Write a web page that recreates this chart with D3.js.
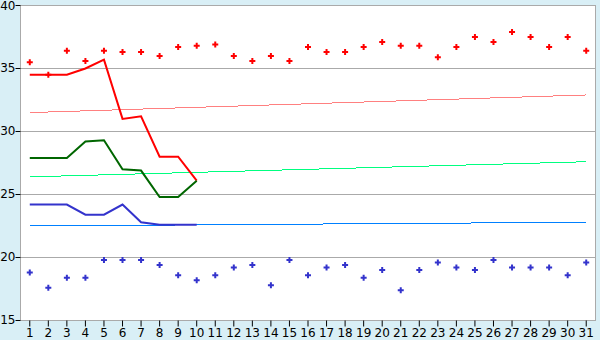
<!DOCTYPE html>
<html>
<head>
<meta charset="utf-8">
<script src="https://cdn.jsdelivr.net/npm/d3@7"></script>
<style>
  html, body { margin: 0; padding: 0; background: #d9eff6; }
  #chart { width: 600px; height: 340px; }
  text { font-family: "DejaVu Sans", Verdana, sans-serif; }
</style>
</head>
<body>
<div id="chart"></div>
<script>
const days = d3.range(1, 32);
const yTicks = [15, 20, 25, 30, 35, 40];

// daily max / min markers
const highs = [35.5, 34.5, 36.4, 35.6, 36.4, 36.3, 36.3, 36.0, 36.7, 36.8,
  36.9, 36.0, 35.6, 36.0, 35.6, 36.7, 36.3, 36.3, 36.7, 37.1,
  36.8, 36.8, 35.9, 36.7, 37.5, 37.1, 37.9, 37.5, 36.7, 37.5, 36.4];
const lows = [18.8, 17.6, 18.4, 18.4, 19.8, 19.8, 19.8, 19.4, 18.6, 18.2,
  18.6, 19.2, 19.4, 17.8, 19.8, 18.6, 19.2, 19.4, 18.4, 19.0,
  17.4, 19.0, 19.6, 19.2, 19.0, 19.8, 19.2, 19.2, 19.2, 18.6, 19.6];

// measured lines, days 1-10
const redLine = [34.5, 34.5, 34.5, 35.0, 35.7, 31.0, 31.2, 28.0, 28.0, 26.1];
const greenLine = [27.9, 27.9, 27.9, 29.2, 29.3, 27.0, 26.9, 24.8, 24.8, 26.1];
const blueLine = [24.2, 24.2, 24.2, 23.4, 23.4, 24.2, 22.8, 22.6, 22.6, 22.6];

// reference lines: value at day 1 and day 31
const redRef = [31.5, 32.9];
const greenRef = [26.4, 27.6];
const blueRef = [22.5, 22.8];

const W = 600, H = 340;
const margin = { top: 5, right: 5, bottom: 20, left: 20 };
const innerW = W - margin.left - margin.right;
const innerH = H - margin.top - margin.bottom;

const svg = d3.select("#chart").append("svg")
  .attr("width", W).attr("height", H);

const g = svg.append("g")
  .attr("transform", `translate(${margin.left + 0.5},${margin.top + 0.5})`);

const x = d3.scaleBand().domain(days).range([0, innerW]);
const cx = d => x(d) + x.bandwidth() / 2;
const y = d3.scaleLinear().domain([15, 40]).range([innerH, 0]);

g.append("rect")
  .attr("width", innerW).attr("height", innerH)
  .attr("fill", "#fff");

// grid
g.selectAll("line.grid")
  .data(yTicks.slice(1))
  .join("line")
  .attr("class", "grid")
  .attr("x1", 0).attr("x2", innerW)
  .attr("y1", d => Math.round(y(d))).attr("y2", d => Math.round(y(d)))
  .attr("stroke", "#aaa");

// frame
g.append("rect")
  .attr("width", innerW).attr("height", innerH)
  .attr("fill", "none").attr("stroke", "#aaa");

// axes
const xAxis = g.append("g")
  .attr("transform", `translate(0,${innerH})`)
  .call(d3.axisBottom(x).tickSize(6).tickSizeOuter(0));
xAxis.select(".domain").remove();
xAxis.selectAll("text").attr("dy", "0.95em").style("font-size", "12px").attr("y", 5);
xAxis.selectAll("line").attr("stroke", "#000");

const yAxis = g.append("g")
  .call(d3.axisLeft(y).tickValues(yTicks).tickSize(5).tickSizeOuter(0));
yAxis.select(".domain").remove();
yAxis.selectAll("text").style("font-size", "12px").attr("x", -5)
  .attr("y", d => d === 40 ? 1 : 0);
yAxis.selectAll(".tick").attr("transform", d => `translate(0,${Math.round(y(d))})`);

// reference lines
const refLine = d3.line()
  .x((d, i) => cx(i === 0 ? 1 : 31))
  .y(d => y(d));
[[redRef, "#ff8080"], [greenRef, "#00ff80"], [blueRef, "#0080ff"]].forEach(([data, c]) => {
  g.append("path")
    .attr("d", refLine(data))
    .attr("fill", "none")
    .attr("stroke", c)
    .attr("stroke-width", 1)
    .attr("shape-rendering", "crispEdges");
});

// measured lines
const line = d3.line().x((d, i) => cx(i + 1)).y(d => y(d));
[[redLine, "#ff0000"], [greenLine, "#006600"], [blueLine, "#3333cc"]].forEach(([data, c]) => {
  g.append("path")
    .attr("d", line(data))
    .attr("fill", "none")
    .attr("stroke", c)
    .attr("stroke-width", 2);
});

// markers
const sym = d3.symbol().type(d3.symbolCross).size(20);
g.selectAll("path.high")
  .data(highs)
  .join("path")
  .attr("class", "high")
  .attr("d", sym)
  .attr("transform", (d, i) => `translate(${cx(i + 1)},${y(d)})`)
  .attr("fill", "#ff0000");

g.selectAll("path.low")
  .data(lows)
  .join("path")
  .attr("class", "low")
  .attr("d", sym)
  .attr("transform", (d, i) => `translate(${cx(i + 1)},${y(d)})`)
  .attr("fill", "#3333cc");
</script>
</body>
</html>
